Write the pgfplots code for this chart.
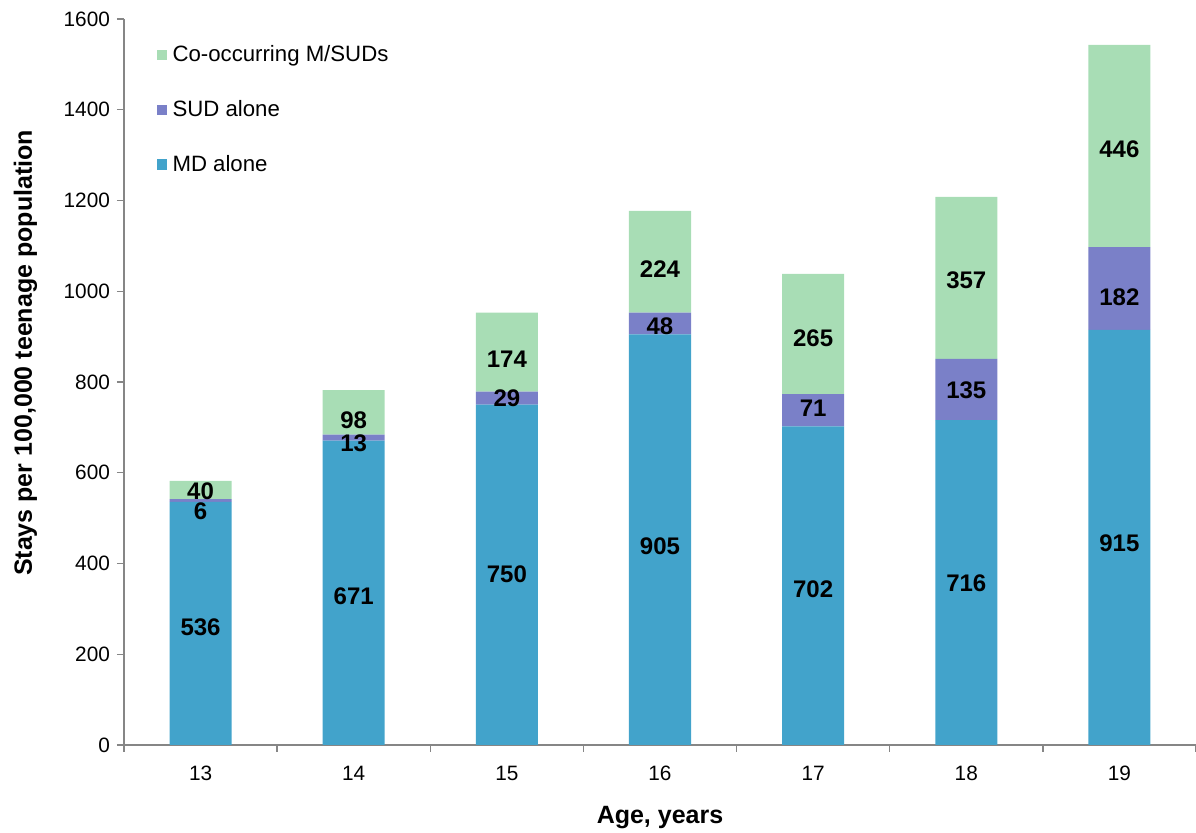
\documentclass[border=0pt]{standalone}
\usepackage{pgfplots}
\pgfplotsset{compat=1.18}
\usepackage{pgfplotstable}
\usepackage{fontspec}
\setmainfont{Liberation Sans}
\definecolor{mdc}{RGB}{66,163,203}
\definecolor{sudc}{RGB}{122,128,200}
\definecolor{coc}{RGB}{168,221,181}
\definecolor{axc}{RGB}{134,134,134}
\pgfplotstableread{
x md sud co
0 536 6 40
1 671 13 98
2 750 29 174
3 905 48 224
4 702 71 265
5 716 135 357
6 915 182 446
}\datatab
\pgfplotstableread{
x y lab
0 260 536
0 516 6
0 560 40
1 328 671
1 666 13
1 716 98
2 377 750
2 765 29
2 851 174
3 439 905
3 923 48
3 1049 224
4 344 702
4 743 71
4 897 265
5 357 716
5 782 135
5 1025 357
6 445 915
6 987 182
6 1313 446
}\labtab
\begin{document}
\begin{tikzpicture}
\pgfplotsset{base/.style={scale only axis, width=536pt, height=363pt,
  xmin=-0.5, xmax=6.5, ymin=0, ymax=1600, at={(0,0)}, anchor=south west},
  sq/.style={legend image code/.code={\fill[##1] (0pt,-2.6pt) rectangle (5.2pt,2.6pt);}}}
\begin{axis}[base, name=ax, ybar stacked, bar width=0.405,
  axis x line*=bottom, axis y line*=left,
  axis line style={axc, line width=0.7pt},
  tick style={axc, line width=0.7pt},
  tick align=outside, major tick length=3.5pt,
  ytick={0,200,...,1600},
  /pgf/number format/1000 sep={},
  /pgf/number format/assume math mode=true,
  ticklabel style={font=\fontsize{10.4}{12}\selectfont, text=black},
  xtick={-0.5,0.5,...,6.5}, xticklabels={},
  extra x ticks={0,1,2,3,4,5,6},
  extra x tick labels={13,14,15,16,17,18,19},
  extra x tick style={major tick length=0pt, xticklabel style={yshift=-7pt}},
  ylabel={Stays per 100,000 teenage population},
  xlabel={Age, years},
  every axis y label/.style={at={(axis description cs:-0.092,0.54)}, rotate=90, anchor=center,
    font=\bfseries\fontsize{12.5}{15}\selectfont},
  every axis x label/.style={at={(axis description cs:0.5,-0.1006)}, anchor=center,
    font=\bfseries\fontsize{12.5}{15}\selectfont},
  reverse legend,
  legend style={at={(axis description cs:0.030,0.968)}, anchor=north west, draw=none, fill=none,
    font=\fontsize{11.1}{13}\selectfont, row sep=14.8pt, inner sep=0pt,
    nodes={inner sep=1.5pt}},
  legend cell align=left,
]
\addplot[fill=mdc, draw=none, sq] table[x=x, y=md]{\datatab};
\addlegendentry{\hspace{1.3pt}MD alone}
\addplot[fill=sudc, draw=none, sq] table[x=x, y=sud]{\datatab};
\addlegendentry{\hspace{1.3pt}SUD alone}
\addplot[fill=coc, draw=none, sq] table[x=x, y=co]{\datatab};
\addlegendentry{\hspace{1.3pt}Co-occurring M/SUDs}
\end{axis}
\begin{axis}[base, hide axis]
\addplot[draw=none, mark=none, nodes near coords, point meta=explicit symbolic,
  every node near coord/.append style={anchor=center, text=black,
    font=\bfseries\fontsize{12}{14}\selectfont}]
  table[x=x, y=y, meta=lab]{\labtab};
\end{axis}
\pgfresetboundingbox
\path[use as bounding box] (-62pt,-44pt) rectangle (536pt,372.5pt);
\end{tikzpicture}
\end{document}
